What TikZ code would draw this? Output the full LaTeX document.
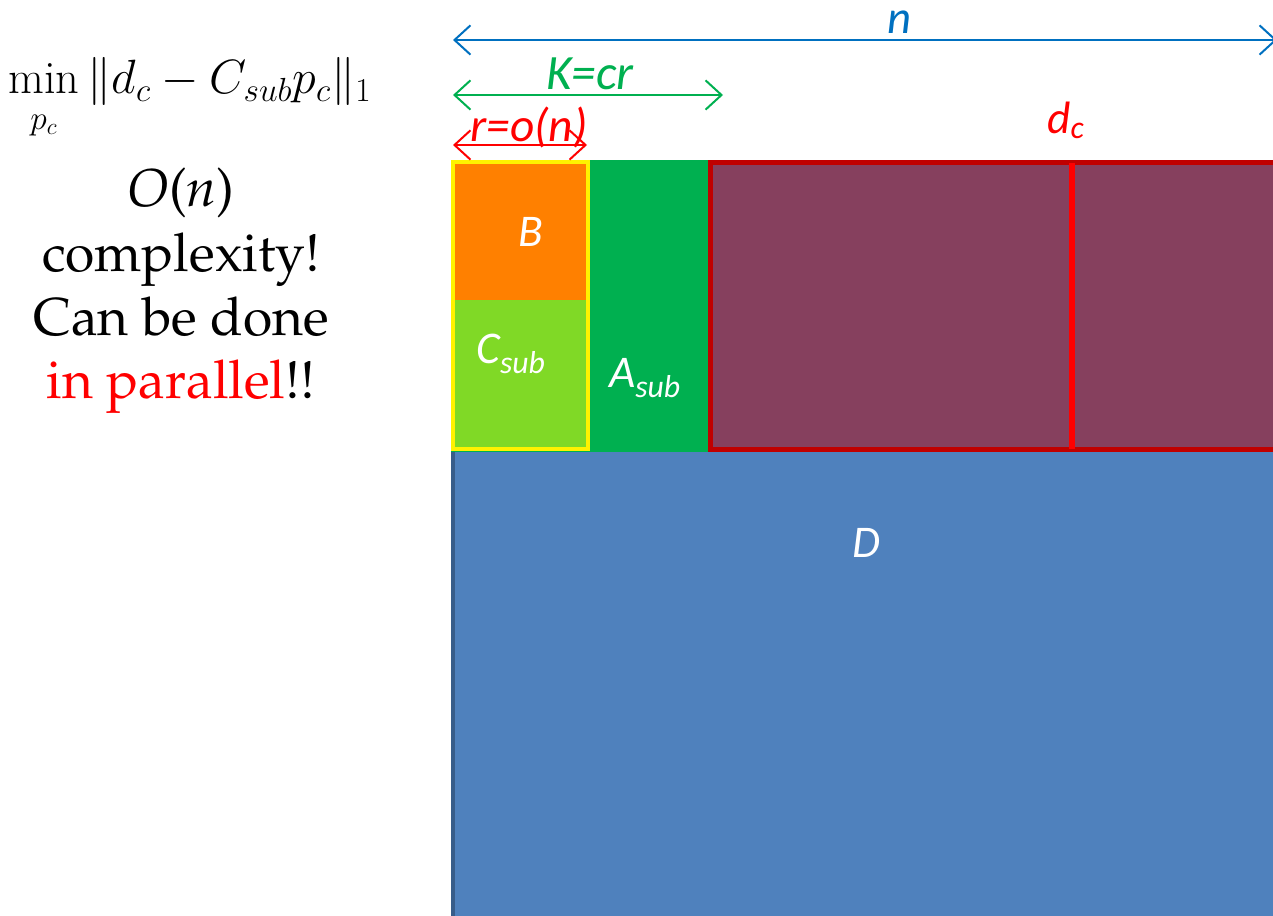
\documentclass[tikz,border=0pt]{standalone}
\usepackage[T1]{fontenc}
\usepackage{fontspec}
\newfontfamily\lblfont{Carlito}
\usetikzlibrary{arrows.meta}
\definecolor{dblue}{RGB}{79,129,189}
\definecolor{dblueedge}{RGB}{56,93,138}
\definecolor{agreen}{RGB}{0,176,80}
\definecolor{borange}{RGB}{255,128,0}
\definecolor{clime}{RGB}{128,217,38}
\definecolor{maroon}{RGB}{134,64,94}
\definecolor{dkred}{RGB}{192,0,0}
\definecolor{nblue}{RGB}{0,112,192}
\newcommand{\palfont}{\fontencoding{T1}\fontfamily{ppl}\selectfont}
\tikzset{
  dimarrow/.style={line width=1.5pt, {Straight Barb[length=12pt,width=22pt,line width=1.5pt]}-{Straight Barb[length=12pt,width=22pt,line width=1.5pt]}},
  lbl/.style={font=\lblfont\itshape\fontsize{#1}{#1}\selectfont, inner sep=0pt},
  lefttext/.style={font=\palfont\fontsize{40}{44}\selectfont, inner sep=0pt, anchor=base},
}
\begin{document}
\begin{tikzpicture}[x=0.75pt,y=-0.75pt]
\useasboundingbox (0,0) rectangle (1273,916);
% big matrix D
\fill[dblue] (451,160) rectangle (1290,930);
\fill[dblueedge] (451,452) rectangle (455,930);
\node[lbl=34, text=white] (D) at (866,543) {D};
% A_sub block
\fill[agreen] (451,160) rectangle (710,452);
\node[lbl=34, text=white] (A) at (645,378) {A\textsubscript{sub}};
% B and C_sub blocks with yellow frame
\fill[borange] (453,162) rectangle (588,300);
\fill[clime] (453,300) rectangle (588,449);
\draw[yellow, line width=3pt] (453,162) rectangle (588,449);
\node[lbl=34, text=white] (B) at (531,232) {B};
\node[lbl=34, text=white] (C) at (511,354) {C\textsubscript{sub}};
% remaining columns
\fill[maroon] (710,162) rectangle (1290,450);
\draw[dkred, line width=3.5pt] (1290,162.5) -- (710.5,162.5) -- (710.5,449.5) -- (1290,449.5);
\coordinate (dtop) at (1072,163);
\coordinate (dbot) at (1072,449);
\draw[red, line width=4pt] (dtop) -- (dbot);
\node[lbl=34, text=red] (dc) at (1066,120) {d\textsubscript{c}};
% dimension arrows
\coordinate (nL) at (453,40);
\coordinate (nR) at (1277,40);
\draw[nblue, dimarrow] (nL) -- (nR);
\node[lbl=35, text=nblue] (n) at (899,22) {n};
\coordinate (kL) at (453,95);
\coordinate (kR) at (723,95);
\draw[agreen, dimarrow] (kL) -- (kR);
\node[lbl=37, text=agreen] (K) at (590,74) {K=cr};
\coordinate (rL) at (453,145);
\coordinate (rR) at (587,145);
\draw[red, dimarrow] (rL) -- (rR);
\node[lbl=35.5, text=red] (r) at (529,127) {r=o(n)};
% left-hand text
\node[inner sep=0pt, font=\fontsize{24}{28}\selectfont, scale=1.45, anchor=base] (obj) at (190,94) {$\displaystyle\min_{\rule{0pt}{1.6ex}p_c}\|d_c-C_{sub}p_c\|_1$};
\node[lefttext] (t1) at (181,207) {\textit{O}(\textit{n})};
\node[lefttext] (t2) at (181,272) {complexity!};
\node[lefttext] (t3) at (181,335) {Can be done};
\node[lefttext] (t4) at (181,398) {\textcolor{red}{in parallel}!!};
\end{tikzpicture}
\end{document}
